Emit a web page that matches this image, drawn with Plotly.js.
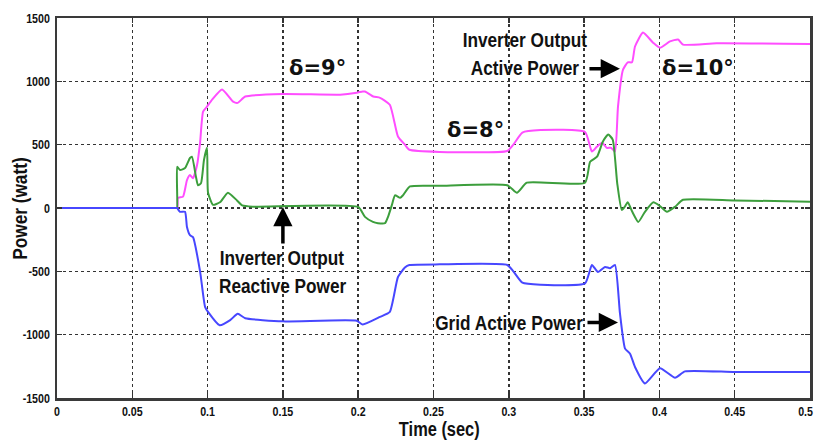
<!DOCTYPE html>
<html>
<head>
<meta charset="utf-8">
<script src="https://cdn.plot.ly/plotly-3.0.1.min.js"></script>
<style>html,body{margin:0;padding:0;background:#fff;}#chart{width:815px;height:442px;}</style>
</head>
<body>
<div id="chart"></div>
<script>
// Inverter output active power
const activeT = [0, 0.0400, 0.0790, 0.0800, 0.0803, 0.0837, 0.0863, 0.0883, 0.0903, 0.0930, 0.0950, 0.0970, 0.0996, 0.1030, 0.1096, 0.1169, 0.1200, 0.1250, 0.1500, 0.1880, 0.1990, 0.2030, 0.2045, 0.2100, 0.2145, 0.2210, 0.2264, 0.2310, 0.2340, 0.2540, 0.2990, 0.3030, 0.3090, 0.3210, 0.3506, 0.3552, 0.3586, 0.3620, 0.3650, 0.3680, 0.3705, 0.3725, 0.3758, 0.3790, 0.3818, 0.3838, 0.3891, 0.3958, 0.4004, 0.4070, 0.4124, 0.4157, 0.4380, 0.5000];
const activeP = [0, 0, 0, 0, 79, 90, 220, 260, 235, 340, 515, 760, 800, 855, 935, 840, 830, 880, 900, 895, 910, 920, 920, 880, 870, 815, 565, 500, 460, 443, 450, 500, 595, 615, 600, 445, 485, 515, 475, 475, 445, 800, 1090, 1150, 1150, 1275, 1385, 1305, 1265, 1315, 1330, 1290, 1300, 1295];

// Inverter output reactive power
const reactiveT = [0, 0.0400, 0.0790, 0.0797, 0.0798, 0.0817, 0.0850, 0.0883, 0.0896, 0.0923, 0.0936, 0.0956, 0.0976, 0.0996, 0.1003, 0.1036, 0.1082, 0.1135, 0.1195, 0.1230, 0.1300, 0.2000, 0.2045, 0.2098, 0.2131, 0.2178, 0.2198, 0.2224, 0.2244, 0.2278, 0.2297, 0.2344, 0.2540, 0.2990, 0.3054, 0.3120, 0.3506, 0.3540, 0.3586, 0.3625, 0.3660, 0.3690, 0.3720, 0.3750, 0.3770, 0.3790, 0.3820, 0.3860, 0.3904, 0.3960, 0.4004, 0.4050, 0.4104, 0.4157, 0.4500, 0.5000];
const reactiveP = [0, 0, 0, 0, 325, 300, 315, 395, 405, 245, 180, 195, 380, 475, 120, 25, 45, 120, 60, 20, 10, 8, -70, -110, -120, -120, -70, 25, 100, 80, 100, 170, 175, 180, 120, 200, 200, 365, 405, 525, 580, 540, 195, -15, 10, 45, -30, -110, -30, 45, 15, -30, 10, 65, 60, 50];

// Grid active power
const gridT = [0, 0.0400, 0.0790, 0.0797, 0.0817, 0.0850, 0.0863, 0.0883, 0.0903, 0.0950, 0.0983, 0.1003, 0.1080, 0.1150, 0.1200, 0.1250, 0.1500, 0.1990, 0.2030, 0.2145, 0.2210, 0.2264, 0.2310, 0.2340, 0.2540, 0.2990, 0.3030, 0.3090, 0.3210, 0.3506, 0.3552, 0.3592, 0.3639, 0.3672, 0.3705, 0.3738, 0.3772, 0.3805, 0.3838, 0.3904, 0.4004, 0.4104, 0.4170, 0.4500, 0.5000];
const gridP = [0, 0, 0, 0, -30, -30, -150, -215, -230, -500, -780, -820, -925, -885, -835, -870, -895, -890, -920, -860, -820, -545, -470, -450, -445, -450, -500, -590, -605, -595, -450, -505, -465, -475, -450, -830, -1110, -1150, -1255, -1385, -1265, -1340, -1290, -1295, -1295];

const xTickVals = [0, 0.05, 0.1, 0.15, 0.2, 0.25, 0.3, 0.35, 0.4, 0.45, 0.5];
const xTickText = ["0", "0.05", "0.1", "0.15", "0.2", "0.25", "0.3", "0.35", "0.4", "0.45", "0.5"];
const yTickVals = [-1500, -1000, -500, 0, 500, 1000, 1500];
const yTickText = ["-1500", "-1000", "-500", "0", "500", "1000", "1500"];

const FONT = "'Liberation Sans', Arial, sans-serif";
const DFONT = "'DejaVu Sans', sans-serif";
const SQUEEZE = 0.82;

const lineShape = {shape: 'spline', smoothing: 0.5, width: 2};
const traces = [
  {x: activeT, y: activeP, mode: 'lines', line: Object.assign({color: '#ff4dff'}, lineShape), name: 'Inverter Output Active Power'},
  {x: reactiveT, y: reactiveP, mode: 'lines', line: Object.assign({color: '#3c9e3c'}, lineShape), name: 'Inverter Output Reactive Power'},
  {x: gridT, y: gridP, mode: 'lines', line: Object.assign({color: '#4747ff'}, lineShape), name: 'Grid Active Power'}
];

function txt(text, x, y) {
  return {text: text, x: x, y: y, xref: 'x', yref: 'y', showarrow: false,
          font: {family: FONT, size: 21, color: '#111', weight: 'bold'}};
}
function delta(text, x, y) {
  return {text: text, x: x, y: y, xref: 'x', yref: 'y', showarrow: false,
          font: {family: DFONT, size: 21, color: '#111', weight: 'bold'}};
}
function arrow(x, y, ax, ay) {
  return {text: '', x: x, y: y, xref: 'x', yref: 'y', ax: ax, ay: ay, showarrow: true,
          arrowhead: 2, arrowsize: 1.1, arrowwidth: 3.5, arrowcolor: '#000'};
}

const axisCommon = {
  showgrid: true, gridcolor: '#333', griddash: 'dot', gridwidth: 1.5,
  zeroline: false, showline: true, linecolor: '#3a3a3a', linewidth: 2.5, mirror: 'ticks',
  ticks: 'inside', ticklen: 5, tickcolor: '#333', tickwidth: 1.5,
  ticklabeloverflow: 'allow',
  tickfont: {family: FONT, size: 13, color: '#111', weight: 'bold'}
};

const layout = {
  width: 815, height: 442,
  margin: {l: 57, r: 5, t: 18, b: 44},
  paper_bgcolor: '#fff', plot_bgcolor: '#fff',
  showlegend: false,
  font: {family: FONT, color: '#111'},
  xaxis: Object.assign({range: [0, 0.5], tickvals: xTickVals, ticktext: xTickText, ticklabelstandoff: 0}, axisCommon),
  yaxis: Object.assign({range: [-1500, 1500], tickvals: yTickVals, ticktext: yTickText, ticklabelstandoff: 2}, axisCommon),
  annotations: [
    {text: 'Time (sec)', xref: 'paper', yref: 'paper', x: 0.5086, y: -0.1132, xanchor: 'center', yanchor: 'bottom', borderpad: 0, showarrow: false,
     font: {family: FONT, size: 20, color: '#111', weight: 'bold'}},
    {text: 'Power (watt)', xref: 'paper', yref: 'paper', x: -0.0505, y: 0.5, xanchor: 'center', yanchor: 'middle', textangle: -90, showarrow: false,
     font: {family: FONT, size: 21, color: '#111', weight: 'bold'}},
    delta('\u03b4=9\u00b0', 0.1733, 1108),
    delta('\u03b4=8\u00b0', 0.2776, 618),
    delta('\u03b4=10\u00b0', 0.4256, 1108),
    txt('Inverter Output', 0.3108, 1330),
    txt('Active Power', 0.3108, 1108),
    arrow(0.3738, 1100, -32, 0),
    txt('Inverter Output', 0.1495, -390),
    txt('Reactive Power', 0.1495, -610),
    arrow(0.150, 8, 0, 38),
    txt('Grid Active Power', 0.3, -903),
    arrow(0.3725, -903, -32, 0)
  ]
};

Plotly.newPlot('chart', traces, layout, {staticPlot: true, displayModeBar: false}).then(function (gd) {
  const nodes = gd.querySelectorAll('.annotation-text, .xtick text, .ytick text');
  nodes.forEach(function (el) {
    if (el.textContent.indexOf('\u03b4') >= 0) return;
    const w = el.getComputedTextLength();
    if (w > 0) {
      el.setAttribute('textLength', (w * SQUEEZE).toFixed(2));
      el.setAttribute('lengthAdjust', 'spacingAndGlyphs');
    }
  });
  // keep the last x tick label inside the picture
  const xt = gd.querySelectorAll('.xtick text');
  if (xt.length) {
    const last = xt[xt.length - 1];
    const r = last.getBoundingClientRect();
    const over = r.right - 813;
    if (over > 0) {
      last.setAttribute('x', (parseFloat(last.getAttribute('x') || 0) - over).toFixed(2));
    }
  }
});
</script>
</body>
</html>
